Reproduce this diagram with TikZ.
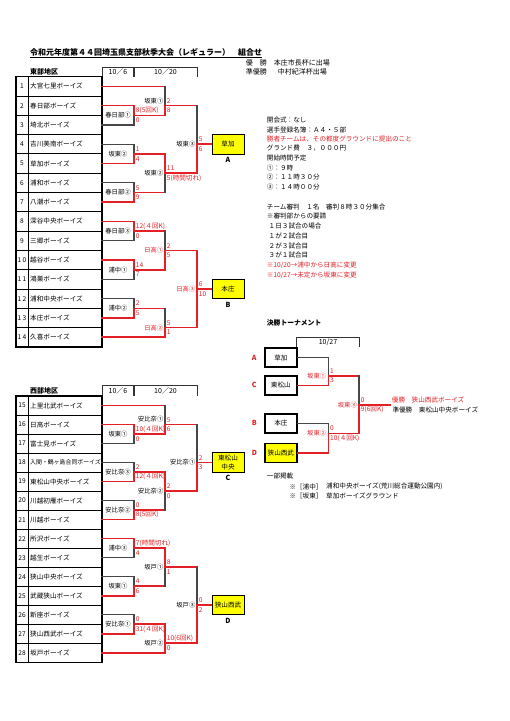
\documentclass[tikz,border=0pt]{standalone}
\usepackage{fontspec}
\setmainfont{Noto Sans CJK JP}
\definecolor{rd}{RGB}{226,32,38}
\definecolor{yl}{RGB}{255,255,0}
\tikzset{
  bk/.style={draw=black!72,line width=1.1pt,line cap=rect},
  rl/.style={draw=rd,line width=1.6pt,line cap=rect},
  hdr/.style={draw=black!80,line width=1pt},
  cell/.style={draw=black,line width=0.9pt},
  frame/.style={draw=black,line width=1.2pt},
  txt/.style={inner sep=0pt,anchor=west,font=\fontsize{6.6}{7}\selectfont},
  numf/.style={inner sep=0pt,font=\fontsize{6.6}{7}\selectfont},
  sc/.style={inner sep=0pt,anchor=west,text=rd,font=\fontsize{6.6}{7}\selectfont},
  lbl/.style={inner sep=0pt,anchor=east,font=\fontsize{6.3}{7}\selectfont},
  lbr/.style={lbl,text=rd},
  lbc/.style={inner sep=0pt,font=\fontsize{6.3}{7}\selectfont},
  winbox/.style={draw=black,line width=1pt,fill=yl,minimum width=32pt,minimum height=19.5pt,inner sep=0pt,align=center,font=\fontsize{6.6}{8.5}\selectfont},
  finbox/.style={draw=black,line width=1.6pt,fill=white,minimum width=31.7pt,minimum height=18.8pt,inner sep=0pt,font=\fontsize{6.6}{8}\selectfont},
  grp/.style={inner sep=0pt,font=\fontsize{7}{8}\selectfont\bfseries},
  note/.style={inner sep=0pt,anchor=west,font=\fontsize{6.6}{7}\selectfont},
}
\newcommand{\feed}[4]{\draw[#3] (#1) -- (#1 -| #2);\draw[#4] (#1 -| #2) -- (#2);}
\newcommand{\scr}[3]{\node[sc] (#1-u) at ([xshift=1.7pt,yshift=4.8pt]#1) {#2};\node[sc] (#1-l) at ([xshift=1.7pt,yshift=-4.8pt]#1) {#3};}
\newcommand{\team}[4]{%
  \draw[cell] (16,{2*#2-2}) rectangle (102,{2*#2});
  \node[numf] (n#1) at (22,{2*#2-1}) {#3};
  \node[txt] (nm#1) at (30,{2*#2-1}) {#4};
  \coordinate (t#1) at (102,{2*#2-1});}
\begin{document}
\begin{tikzpicture}[x=1pt,y=-1pt]
\useasboundingbox (0,0) rectangle (510,721);
\fill[white] (0,0) rectangle (510,721);

% ---------- title ----------
\node[inner sep=0pt,anchor=west,font=\fontsize{8}{9}\selectfont\bfseries] (title) at (30,52.5) {令和元年度第４４回埼玉県支部秋季大会（レギュラー）　組合せ};
\draw[line width=0.7pt] ([yshift=-0.6pt]title.south west) -- ([yshift=-0.6pt]title.south east);
\node[note,font=\fontsize{7}{8}\selectfont] (yusho) at (245.7,62.7) {優　勝　本庄市長杯に出場};
\node[note,font=\fontsize{7}{8}\selectfont] (junyusho) at (245.7,71.7) {準優勝\hspace*{11pt}中村紀洋杯出場};

% ---------- headers ----------
\node[grp,anchor=west] (east) at (30,72.3) {東部地区};
\draw[hdr] (102,76.7) -- (102,67.7) -- (197,67.7) -- (197,76.7);
\draw[hdr,line width=1.5pt] (134,67.7) -- (134,76.7);
\node[numf,font=\fontsize{7}{8}\selectfont] (eh1) at (118,72.3) {10／6};
\node[numf,font=\fontsize{7}{8}\selectfont] (eh2) at (165.5,72.3) {10／20};

\node[grp,anchor=west] (west) at (30,390.7) {西部地区};
\draw[hdr] (102,396) -- (102,385) -- (197,385) -- (197,396);
\draw[hdr,line width=1.5pt] (134,385) -- (134,396);
\node[numf,font=\fontsize{7}{8}\selectfont] (wh1) at (118,390.7) {10／6};
\node[numf,font=\fontsize{7}{8}\selectfont] (wh2) at (165.5,390.7) {10／20};

% ================= EAST =================
\begin{scope}[yshift=-76.7pt,y=-9.65pt]
\team{1}{1}{1}{大宮七里ボーイズ}
\team{2}{2}{2}{春日部ボーイズ}
\team{3}{3}{3}{埼北ボーイズ}
\team{4}{4}{4}{吉川美南ボーイズ}
\team{5}{5}{5}{草加ボーイズ}
\team{6}{6}{6}{浦和ボーイズ}
\team{7}{7}{7}{八潮ボーイズ}
\team{8}{8}{8}{深谷中央ボーイズ}
\team{9}{9}{9}{三郷ボーイズ}
\team{10}{10}{1\hspace{1.3pt}0}{越谷ボーイズ}
\team{11}{11}{1\hspace{1.3pt}1}{鴻巣ボーイズ}
\team{12}{12}{1\hspace{1.3pt}2}{浦和中央ボーイズ}
\team{13}{13}{1\hspace{1.3pt}3}{本庄ボーイズ}
\team{14}{14}{1\hspace{1.3pt}4}{久喜ボーイズ}
\draw[cell] (28.3,0) -- (28.3,28);
\draw[frame] (16,0) rectangle (102,28);

\coordinate (eA1) at (134,4);  \coordinate (eA2) at (134,8);
\coordinate (eA3) at (134,12); \coordinate (eA4) at (134,16);
\coordinate (eA5) at (134,20); \coordinate (eA6) at (134,24);
\coordinate (eB1) at (165,3);  \coordinate (eB2) at (165,10);
\coordinate (eB3) at (165,18); \coordinate (eB4) at (165,26);
\coordinate (eC1) at (197,7);  \coordinate (eC2) at (197,22);
\node[winbox] (boxA) at (228,7) {草加};
\node[winbox] (boxB) at (228,22) {本庄};
\node[grp] (letA) at ([yshift=-5.4pt]boxA.south) {A};
\node[grp] (letB) at ([yshift=-5.4pt]boxB.south) {B};

\feed{t3}{eA1}{bk}{bk}
\feed{t4}{eA2}{bk}{bk}
\feed{t6}{eA3}{bk}{bk}
\feed{t9}{eA4}{bk}{bk}
\feed{t11}{eA5}{bk}{bk}
\feed{t12}{eA6}{bk}{bk}
\feed{t2}{eA1}{rl}{rl}
\feed{t5}{eA2}{rl}{rl}
\feed{t7}{eA3}{rl}{rl}
\feed{t8}{eA4}{rl}{rl}
\feed{t10}{eA5}{rl}{rl}
\feed{t13}{eA6}{rl}{rl}
\feed{t1}{eB1}{rl}{bk}
\feed{eA1}{eB1}{rl}{rl}
\feed{eA2}{eB2}{rl}{rl}
\feed{eA3}{eB2}{rl}{bk}
\feed{eA4}{eB3}{rl}{bk}
\feed{eA5}{eB3}{rl}{rl}
\feed{eA6}{eB4}{rl}{bk}
\feed{t14}{eB4}{rl}{rl}
\feed{eB1}{eC1}{rl}{bk}
\feed{eB2}{eC1}{rl}{rl}
\feed{eB3}{eC2}{rl}{rl}
\feed{eB4}{eC2}{rl}{rl}
\draw[rl] (eC1) -- (boxA.west);
\draw[rl] (eC2) -- (boxB.west);

\scr{eA1}{8(5回K)}{0}
\scr{eA2}{1}{4}
\scr{eA3}{5}{9}
\scr{eA4}{12(４回K)}{0}
\scr{eA5}{14}{7}
\scr{eA6}{2}{5}
\scr{eB1}{2}{8}
\scr{eB2}{11}{5(時間切れ)}
\scr{eB3}{2}{5}
\scr{eB4}{5}{1}
\scr{eC1}{5}{6}
\scr{eC2}{6}{10}

\node[lbc] (eA1-n) at ([xshift=-16pt]eA1) {春日部①};
\node[lbc] (eA2-n) at ([xshift=-16pt]eA2) {坂東②};
\node[lbc] (eA3-n) at ([xshift=-16pt]eA3) {春日部②};
\node[lbc] (eA4-n) at ([xshift=-16pt]eA4) {春日部③};
\node[lbc] (eA5-n) at ([xshift=-16pt]eA5) {浦中①};
\node[lbc] (eA6-n) at ([xshift=-16pt]eA6) {浦中②};
\node[lbl] (eB1-n) at ([xshift=-1.5pt,yshift=4.8pt]eB1) {坂東①};
\node[lbl] (eB2-n) at ([xshift=-1.5pt]eB2) {坂東②};
\node[lbr] (eB3-n) at ([xshift=-1.5pt]eB3) {日高①};
\node[lbr] (eB4-n) at ([xshift=-1.5pt]eB4) {日高②};
\node[lbl] (eC1-n) at ([xshift=-1.5pt]eC1) {坂東③};
\node[lbr] (eC2-n) at ([xshift=-1.5pt]eC2) {日高③};
\end{scope}

% ================= WEST =================
\begin{scope}[yshift=-396pt,y=-9.51pt]
\team{15}{1}{15}{上里北武ボーイズ}
\team{16}{2}{16}{日高ボーイズ}
\team{17}{3}{17}{富士見ボーイズ}
\team{18}{4}{18}{\fontsize{5.9}{7}\selectfont 入間・鶴ヶ島合同ボーイズ}
\team{19}{5}{19}{東松山中央ボーイズ}
\team{20}{6}{20}{川越初雁ボーイズ}
\team{21}{7}{21}{川越ボーイズ}
\team{22}{8}{22}{所沢ボーイズ}
\team{23}{9}{23}{越生ボーイズ}
\team{24}{10}{24}{狭山中央ボーイズ}
\team{25}{11}{25}{武蔵狭山ボーイズ}
\team{26}{12}{26}{新座ボーイズ}
\team{27}{13}{27}{狭山西武ボーイズ}
\team{28}{14}{28}{坂戸ボーイズ}
\draw[cell] (28.3,0) -- (28.3,28);
\draw[frame] (16,0) rectangle (102,28);

\coordinate (wA1) at (134,4);  \coordinate (wA2) at (134,8);
\coordinate (wA3) at (134,12); \coordinate (wA4) at (134,16);
\coordinate (wA5) at (134,20); \coordinate (wA6) at (134,24);
\coordinate (wB1) at (165,3);  \coordinate (wB2) at (165,10);
\coordinate (wB3) at (165,18); \coordinate (wB4) at (165,26);
\coordinate (wC1) at (197,7);  \coordinate (wC2) at (197,22);
\node[winbox] (boxC) at (228,7) {東松山\\中央};
\node[winbox] (boxD) at (228,22) {狭山西武};
\node[grp] (letC) at ([yshift=-5.4pt]boxC.south) {C};
\node[grp] (letD) at ([yshift=-5.4pt]boxD.south) {D};

\feed{t17}{wA1}{bk}{bk}
\feed{t18}{wA2}{bk}{bk}
\feed{t20}{wA3}{bk}{bk}
\feed{t23}{wA4}{bk}{bk}
\feed{t24}{wA5}{bk}{bk}
\feed{t26}{wA6}{bk}{bk}
\feed{t16}{wA1}{rl}{rl}
\feed{t19}{wA2}{rl}{rl}
\feed{t21}{wA3}{rl}{rl}
\feed{t22}{wA4}{rl}{rl}
\feed{t25}{wA5}{rl}{rl}
\feed{t27}{wA6}{rl}{rl}
\feed{t15}{wB1}{rl}{bk}
\feed{wA1}{wB1}{rl}{rl}
\feed{wA3}{wB2}{rl}{bk}
\feed{wA2}{wB2}{rl}{rl}
\feed{wA5}{wB3}{rl}{bk}
\feed{wA4}{wB3}{rl}{rl}
\feed{wA6}{wB4}{rl}{rl}
\feed{t28}{wB4}{rl}{rl}
\feed{wB1}{wC1}{rl}{bk}
\feed{wB2}{wC1}{rl}{rl}
\feed{wB3}{wC2}{rl}{bk}
\feed{wB4}{wC2}{rl}{rl}
\draw[rl] (wC1) -- (boxC.west);
\draw[rl] (wC2) -- (boxD.west);

\scr{wA1}{10(４回K)}{0}
\scr{wA2}{2}{12(４回K)}
\scr{wA3}{0}{8(5回K)}
\scr{wA4}{7(時間切れ)}{4}
\scr{wA5}{4}{6}
\scr{wA6}{0}{31(４回K)}
\scr{wB1}{5}{6}
\scr{wB2}{2}{0}
\scr{wB3}{8}{1}
\scr{wB4}{10(6回K)}{0}
\scr{wC1}{2}{3}
\scr{wC2}{0}{2}

\node[lbc] (wA1-n) at ([xshift=-16pt]wA1) {坂東①};
\node[lbc] (wA2-n) at ([xshift=-16pt]wA2) {安比奈③};
\node[lbc] (wA3-n) at ([xshift=-16pt]wA3) {安比奈②};
\node[lbc] (wA4-n) at ([xshift=-16pt]wA4) {浦中③};
\node[lbc] (wA5-n) at ([xshift=-16pt]wA5) {坂東①};
\node[lbc] (wA6-n) at ([xshift=-16pt]wA6) {安比奈①};
\node[lbl] (wB1-n) at ([xshift=-1.5pt,yshift=5.5pt]wB1) {安比奈①};
\node[lbl] (wB2-n) at ([xshift=-1.5pt]wB2) {安比奈②};
\node[lbl] (wB3-n) at ([xshift=-1.5pt]wB3) {坂戸①};
\node[lbl] (wB4-n) at ([xshift=-1.5pt]wB4) {坂戸②};
\node[lbl] (wC1-n) at ([xshift=-1.5pt]wC1) {安比奈①};
\node[lbl] (wC2-n) at ([xshift=-1.5pt]wC2) {坂戸③};
\end{scope}

% ================= NOTES =================
\node[note] (i1) at (266.7,120) {開会式：なし};
\node[note] (i2) at (266.7,129.5) {選手登録名簿：Ａ４・５部};
\node[note,text=rd] (i3) at (266.7,139) {勝者チームは、その都度グラウンドに提出のこと};
\node[note] (i4) at (266.7,148.5) {グランド費　３，０００円};
\node[note] (i5) at (266.7,158) {開始時間予定};
\node[note] (i6) at (266.7,167.7) {①：９時};
\node[note] (i7) at (266.7,177.3) {②：１１時３０分};
\node[note] (i8) at (266.7,187) {③：１４時００分};
\node[note] (i9) at (266.7,206.7) {チーム審判　１名　審判８時３０分集合};
\node[note] (i10) at (266.7,216.2) {※審判部からの要請};
\node[note] (i11) at (268.5,226.5) {１日３試合の場合};
\node[note] (i12) at (268.5,236) {１が２試合目};
\node[note] (i13) at (268.5,245.7) {２が３試合目};
\node[note] (i14) at (268.5,255.3) {３が１試合目};
\node[note,text=rd] (i15) at (266.7,265.3) {※10/20→浦中から日高に変更};
\node[note,text=rd] (i16) at (266.7,275.3) {※10/27→未定から坂東に変更};
\node[note,font=\fontsize{6.8}{8}\selectfont\bfseries] (fin) at (266.7,323.3) {決勝トーナメント};

% ================= FINALS =================
\draw[hdr] (296.7,348.3) -- (296.7,337.3) -- (359,337.3) -- (359,346.7);
\node[numf,font=\fontsize{7}{8}\selectfont] (fh) at (328,342.5) {10/27};
\node[finbox] (fA) at (280.85,357.5) {草加};
\node[finbox] (fC) at (280.85,385.3) {東松山};
\node[finbox] (fB) at (280.85,423.3) {本庄};
\node[finbox,fill=yl] (fD) at (280.85,453) {狭山西武};
\node[grp,text=rd] (lA) at (254.3,357.5) {A};
\node[grp,text=rd] (lC) at (254.3,385.3) {C};
\node[grp,text=rd] (lB) at (254.3,423.3) {B};
\node[grp,text=rd] (lD) at (254.3,453) {D};
\coordinate (f1) at (328.3,375.7);
\coordinate (f2) at (328.3,433.3);
\coordinate (f3) at (359,405);
\coordinate (champ) at (390,405);
\feed{fA.east}{f1}{bk}{bk}
\feed{fB.east}{f2}{bk}{bk}
\feed{fC.east}{f1}{rl}{rl}
\feed{fD.east}{f2}{rl}{rl}
\feed{f1}{f3}{rl}{bk}
\feed{f2}{f3}{rl}{rl}
\draw[rl] (f3) -- (champ);
\scr{f1}{1}{3}
\scr{f2}{0}{10(４回K)}
\scr{f3}{0}{9(6回K)}
\node[lbr] (f1-n) at ([xshift=-2pt]f1) {坂東①};
\node[lbr] (f2-n) at ([xshift=-2pt]f2) {坂東②};
\node[lbr] (f3-n) at ([xshift=-2pt]f3) {坂東③};
\node[note,text=rd] (champt) at (391.7,400) {優勝　狭山西武ボーイズ};
\node[note] (runner) at (392.3,409.5) {準優勝　東松山中央ボーイズ};

\node[note] (p1) at (266.7,476) {一部掲載};
\node[note] (p2) at (289.3,486.7) {※［浦中］};
\node[note] (p3) at (326,486.7) {浦和中央ボーイズ(荒川総合運動公園内)};
\node[note] (p4) at (289.3,496.3) {※［坂東］};
\node[note] (p5) at (326,496.3) {草加ボーイズグラウンド};
\end{tikzpicture}
\end{document}
